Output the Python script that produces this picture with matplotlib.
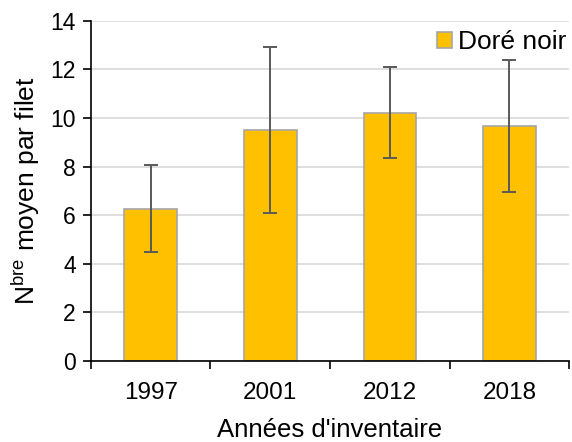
import matplotlib
matplotlib.use("Agg")
import matplotlib.pyplot as plt
import numpy as np

plt.rcParams['font.family'] = ['Liberation Sans', 'DejaVu Sans']
plt.rcParams['mathtext.default'] = 'regular'

annees = ['1997', '2001', '2012', '2018']
moyennes = [6.27, 9.5, 10.22, 9.67]
erreurs = [1.8, 3.42, 1.88, 2.72]

fig = plt.figure(figsize=(5.72, 4.42), dpi=100)
ax = fig.add_axes([0.159, 0.183, 0.836, 0.77])

x = np.arange(len(annees))
ax.bar(x, moyennes, width=0.44, color='#FFC000', edgecolor='#A5A5A5', linewidth=1.2,
       label='Doré noir', zorder=2)
ax.errorbar(x, moyennes, yerr=erreurs, fmt='none', ecolor='#595959', elinewidth=1.4,
            capsize=5, capthick=1.4, zorder=3)

ax.set_ylim(0, 14)
ax.set_yticks(np.arange(0, 15, 2))
ax.set_xlim(-0.5, 3.5)
ax.set_xticks(np.arange(-0.5, 4, 1))
ax.set_xticklabels([])
ax.set_xticks(x, minor=True)
ax.set_xticklabels(annees, minor=True)
ax.tick_params(axis='x', which='major', length=6, width=1.2, direction='out')
ax.tick_params(axis='x', which='minor', length=0, pad=15, labelsize=17.5)
ax.tick_params(axis='y', length=6, width=1.2, direction='out', labelsize=16.5, pad=5)

ax.grid(axis='y', color='#D9D9D9', linewidth=1.2, zorder=0)
ax.set_axisbelow(True)
for s in ['top', 'right']:
    ax.spines[s].set_visible(False)
ax.spines['left'].set_linewidth(1.2)
ax.spines['bottom'].set_linewidth(1.2)

ax.set_xlabel("Années d'inventaire", fontsize=18.5, labelpad=10)
ax.set_ylabel('N$^{bre}$ moyen par filet', fontsize=19, labelpad=6)

ax.legend(loc='upper right', bbox_to_anchor=(1.0, 0.98), frameon=False, fontsize=19,
          handlelength=0.55, handleheight=0.55, handletextpad=0.25,
          borderaxespad=0.0, borderpad=0.1)

fig.savefig('out.png', dpi=100)
